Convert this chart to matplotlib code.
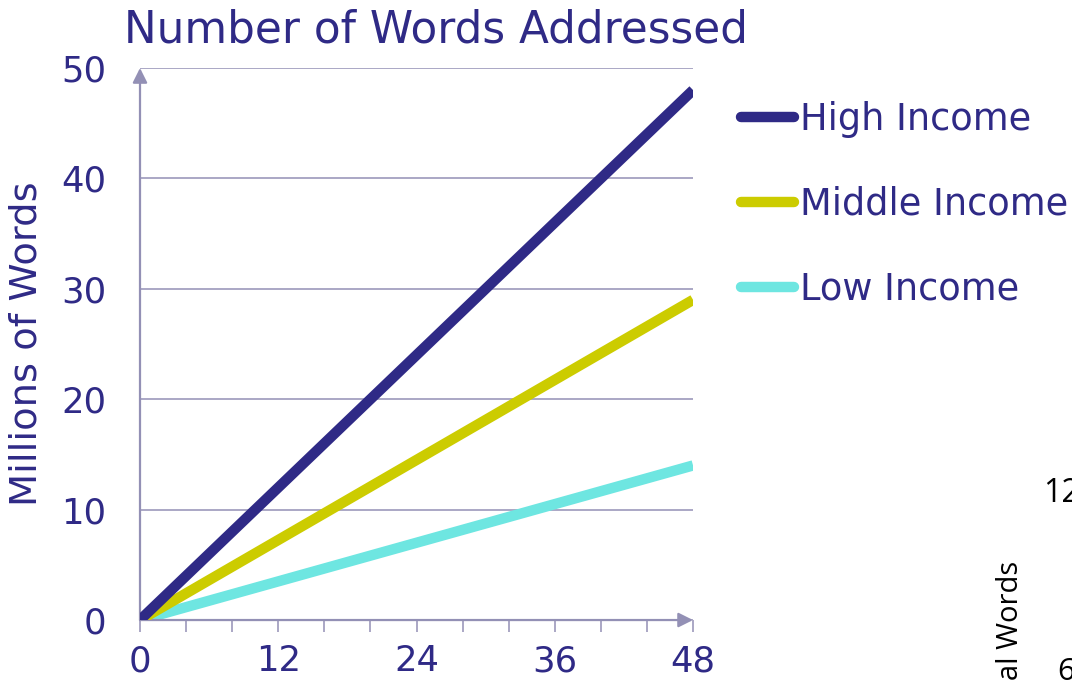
import matplotlib.pyplot as plt
from matplotlib.ticker import MultipleLocator

# data
months = [0, 12, 24, 36, 48]
high_income = [0, 12, 24, 36, 48]
middle_income = [0, 7.25, 14.5, 21.75, 29]
low_income = [0, 3.5, 7, 10.5, 14]
y_ticks = [0, 10, 20, 30, 40, 50]

navy = '#2F2A86'
yellow = '#CCCC00'
cyan = '#6EE6E1'
grey = '#9390B5'

plt.rcParams['font.family'] = ['DejaVu Sans']

fig = plt.figure(figsize=(10.72, 6.8), dpi=100)
ax = fig.add_axes([0.1306, 0.0882, 0.5159, 0.8118])

lw = 7.5
ax.plot(months, high_income, color=navy, lw=lw, solid_capstyle='butt', label='High Income', zorder=5)
ax.plot(months, middle_income, color=yellow, lw=lw, solid_capstyle='butt', label='Middle Income', zorder=4)
ax.plot(months, low_income, color=cyan, lw=lw, solid_capstyle='butt', label='Low Income', zorder=3)

ax.set_xlim(0, 48)
ax.set_ylim(0, 50)
for s in ax.spines.values():
    s.set_visible(False)

ax.set_yticks(y_ticks)
ax.yaxis.grid(True, color=grey, lw=1.1)
ax.set_axisbelow(True)
ax.tick_params(axis='y', length=0, pad=24, labelsize=25.5, labelcolor=navy)

ax.xaxis.set_major_locator(MultipleLocator(12))
ax.xaxis.set_minor_locator(MultipleLocator(4))
ax.tick_params(axis='x', which='both', direction='out', length=8.5, width=1.1, color=grey)
ax.tick_params(axis='x', which='major', pad=9, labelsize=25.5, labelcolor=navy)

# axes with arrow heads
ax.annotate('', xy=(0, 1), xytext=(0, 0), xycoords='axes fraction',
            arrowprops=dict(arrowstyle='-|>', color=grey, lw=1.6, mutation_scale=22, shrinkA=0, shrinkB=0))
ax.annotate('', xy=(1, 0), xytext=(0, 0), xycoords='axes fraction',
            arrowprops=dict(arrowstyle='-|>', color=grey, lw=1.6, mutation_scale=22, shrinkA=0, shrinkB=0))

ax.set_ylabel('Millions of Words', fontsize=27.7, color=navy)
ax.yaxis.set_label_coords(-0.172, 0.5)

fig.text(124 / 1072, 1 - 30 / 680, 'Number of Words Addressed', fontsize=31.5, color=navy, va='center', ha='left')

leg = ax.legend(loc='upper left', bbox_to_anchor=(741 / 1072, 1 - 101 / 680), bbox_transform=fig.transFigure,
                frameon=False, fontsize=26.5, handlelength=1.45, handletextpad=0.15, labelspacing=1.3,
                borderaxespad=0, borderpad=0)
for t in leg.get_texts():
    t.set_color(navy)
for h in leg.legend_handles:
    h.set_solid_capstyle('round')

# cut-off pieces of a neighbouring chart
fig.text(1043 / 1072, 1 - 494 / 680, '12', fontsize=23, color='black', va='center', ha='left', family='Open Sans')
fig.text(1011 / 1072, 1 - 561 / 680, 'Total Words', fontsize=21, color='black', va='top', ha='center',
         rotation=90, family='Open Sans')
fig.text(1057 / 1072, 1 - 672 / 680, '60', fontsize=22, color='black', va='center', ha='left', family='Open Sans')

fig.savefig('out.png', dpi=100)
